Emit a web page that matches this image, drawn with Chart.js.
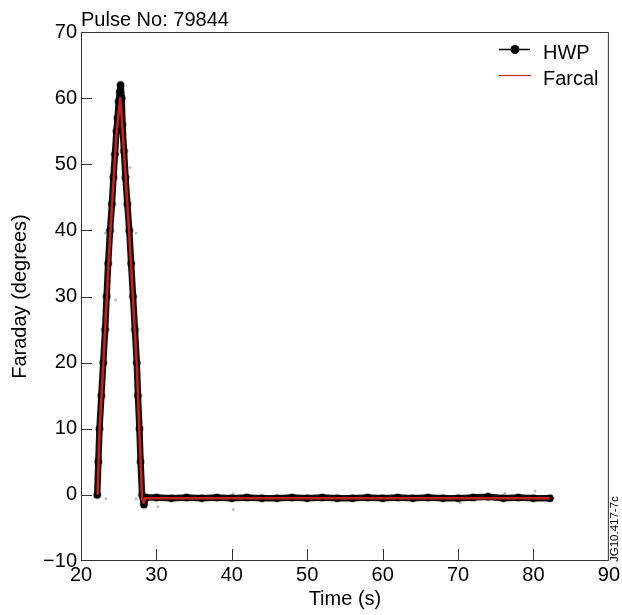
<!DOCTYPE html>
<html lang="en">
<head>
    <meta charset="UTF-8">
    <title>Pulse No: 79844</title>
    <script src="https://cdn.jsdelivr.net/npm/chart.js"></script>
    <style>
        html, body { margin: 0; padding: 0; background: #fff; }
        .chart-container { width: 622px; height: 615px; }
    </style>
</head>
<body>
    <div class="chart-container">
        <canvas id="faradayChart"></canvas>
    </div>
    <script>
        // values
        const pulseTitle = 'Pulse No: 79844';
        const xTitle = 'Time (s)';
        const yTitle = 'Faraday (degrees)';
        const xTicks = [20, 30, 40, 50, 60, 70, 80, 90];
        const yTicks = [-10, 0, 10, 20, 30, 40, 50, 60, 70];

        const hwpTime = [22.15, 22.3, 22.45, 22.7, 22.95, 23.2, 23.4, 23.6, 23.85, 24.1, 24.3, 24.5, 24.7, 24.85, 25.0, 25.15, 25.25,
            25.4, 25.5, 25.7, 25.9, 26.15, 26.4, 26.65, 26.9, 27.15, 27.4, 27.55, 27.75, 27.9, 28.1, 28.35, 28.6,
            30, 32, 34, 36, 38, 40, 42, 44, 46, 48, 50, 52, 54, 56, 58, 60, 62, 64, 66, 68, 70, 72, 74, 76, 78, 80, 82.2];
        const hwpValues = [0, 5, 10, 15, 20, 25, 30, 35, 40, 44, 48, 51.5, 55, 57, 59.5, 61, 62,
            60, 56, 52, 48, 44, 40, 35, 30, 25, 20, 15, 10, 5, 0, -1.5, -0.4,
            -0.4, -0.5, -0.4, -0.5, -0.4, -0.5, -0.4, -0.5, -0.5, -0.4, -0.5, -0.4, -0.5, -0.5, -0.4, -0.5, -0.4, -0.5, -0.4, -0.5, -0.5, -0.4, -0.3, -0.5, -0.4, -0.5, -0.5];

        const farcalTime = [22.2, 22.45, 22.95, 23.4, 23.85, 24.7, 25.2, 25.5, 26.4, 27.4, 27.75, 28.1, 28.3, 28.5, 82.2];
        const farcalValues = [0, 9.5, 19.5, 29.5, 39, 54.5, 60, 55.5, 39.5, 19.5, 9.5, -0.5, -1.2, -0.5, -0.5];

        const strayTime = [23.3, 27.3, 30.2, 40.2, 40.2, 70.3, 76.2, 80.2, 23.2, 27.3, 24.1, 26.5, 24.6];
        const strayValues = [-0.6, -0.6, -1.8, -2.2, 0.2, -1.2, 0.3, 0.6, 39.6, 39.6, 49.5, 49.5, 29.5];

        const FONT = "'Liberation Sans', Arial, sans-serif";

        function toPoints(xs, ys) {
            return xs.map((x, i) => ({ x: x, y: ys[i] }));
        }

        // box, inward ticks, titles and legend drawn on top of the plot
        const decorations = {
            id: 'decorations',
            afterDraw(chart) {
                const ctx = chart.ctx;
                const area = chart.chartArea;
                const xs = chart.scales.x;
                const ys = chart.scales.y;
                ctx.save();
                ctx.strokeStyle = '#333';
                ctx.lineWidth = 1;
                ctx.strokeRect(area.left + 0.5, area.top + 0.5, area.right - area.left - 1, area.bottom - area.top - 1);

                ctx.beginPath();
                xTicks.slice(1, -1).forEach(v => {
                    const px = Math.round(xs.getPixelForValue(v)) + 0.5;
                    ctx.moveTo(px, area.bottom);
                    ctx.lineTo(px, area.bottom - 12);
                });
                yTicks.slice(1, -1).forEach(v => {
                    const py = Math.round(ys.getPixelForValue(v)) + 0.5;
                    ctx.moveTo(area.left, py);
                    ctx.lineTo(area.left + 11, py);
                });
                ctx.stroke();

                ctx.fillStyle = '#000';
                ctx.font = '20px ' + FONT;
                ctx.textAlign = 'left';
                ctx.textBaseline = 'alphabetic';
                ctx.fillText(pulseTitle, area.left, 26);

                // axis titles
                ctx.textAlign = 'center';
                ctx.fillText(xTitle, (area.left + area.right) / 2, 605);
                ctx.save();
                ctx.translate(26, (area.top + area.bottom) / 2);
                ctx.rotate(-Math.PI / 2);
                ctx.fillText(yTitle, 0, 0);
                ctx.restore();

                // legend
                const sets = chart.data.datasets;
                ctx.textAlign = 'left';
                ctx.strokeStyle = '#000';
                ctx.lineWidth = 1.5;
                ctx.beginPath();
                ctx.moveTo(499, 49.5);
                ctx.lineTo(530, 49.5);
                ctx.stroke();
                ctx.beginPath();
                ctx.arc(515, 49.5, 4.5, 0, Math.PI * 2);
                ctx.fill();
                ctx.fillText(sets[1].label, 543, 59);
                ctx.strokeStyle = '#d0201c';
                ctx.lineWidth = 1.2;
                ctx.beginPath();
                ctx.moveTo(499, 75.5);
                ctx.lineTo(531, 75.5);
                ctx.stroke();
                ctx.fillText(sets[0].label, 543, 85);

                // figure reference
                ctx.font = '11.5px ' + FONT;
                ctx.translate(618, 562);
                ctx.rotate(-Math.PI / 2);
                ctx.fillText('JG10.417-7c', 0, 0);
                ctx.restore();
            }
        };

        const ctx = document.getElementById('faradayChart').getContext('2d');
        new Chart(ctx, {
            type: 'scatter',
            data: {
                datasets: [{
                    label: 'Farcal',
                    data: toPoints(farcalTime, farcalValues),
                    showLine: true,
                    borderColor: '#c8201c',
                    borderWidth: 2.5,
                    borderJoinStyle: 'round',
                    pointRadius: 0,
                    order: 0
                }, {
                    label: 'HWP',
                    data: toPoints(hwpTime, hwpValues),
                    showLine: true,
                    borderColor: '#111',
                    borderWidth: 6.5,
                    borderJoinStyle: 'round',
                    borderCapStyle: 'round',
                    pointRadius: 3.5,
                    pointBackgroundColor: '#000',
                    pointBorderColor: 'rgba(0,0,0,0.3)',
                    pointBorderWidth: 2,
                    order: 1
                }, {
                    label: 'stray',
                    data: toPoints(strayTime, strayValues),
                    pointRadius: 1.5,
                    pointBorderWidth: 0,
                    pointBackgroundColor: 'rgba(0,0,0,0.25)',
                    order: 2
                }]
            },
            options: {
                responsive: true,
                maintainAspectRatio: false,
                animation: false,
                layout: { padding: { top: 32, right: 13, left: 0, bottom: 0 } },
                plugins: {
                    legend: { display: false },
                    tooltip: { enabled: false }
                },
                scales: {
                    x: {
                        type: 'linear',
                        min: 20,
                        max: 90,
                        afterBuildTicks: scale => { scale.ticks = xTicks.map(v => ({ value: v })); },
                        afterFit: scale => { scale.height = 54; },
                        grid: { display: false, drawTicks: false },
                        border: { display: false },
                        ticks: { color: '#000', padding: 2, font: { family: FONT, size: 20 } }
                    },
                    y: {
                        min: -10,
                        max: 70,
                        afterBuildTicks: scale => { scale.ticks = yTicks.map(v => ({ value: v })); },
                        afterFit: scale => { scale.width = 81; },
                        grid: { display: false, drawTicks: false },
                        border: { display: false },
                        ticks: {
                            color: '#000', padding: 4, font: { family: FONT, size: 20 },
                            callback: v => (v < 0 ? '\u2212' + Math.abs(v) : String(v))
                        }
                    }
                }
            },
            plugins: [decorations]
        });
    </script>
</body>
</html>
